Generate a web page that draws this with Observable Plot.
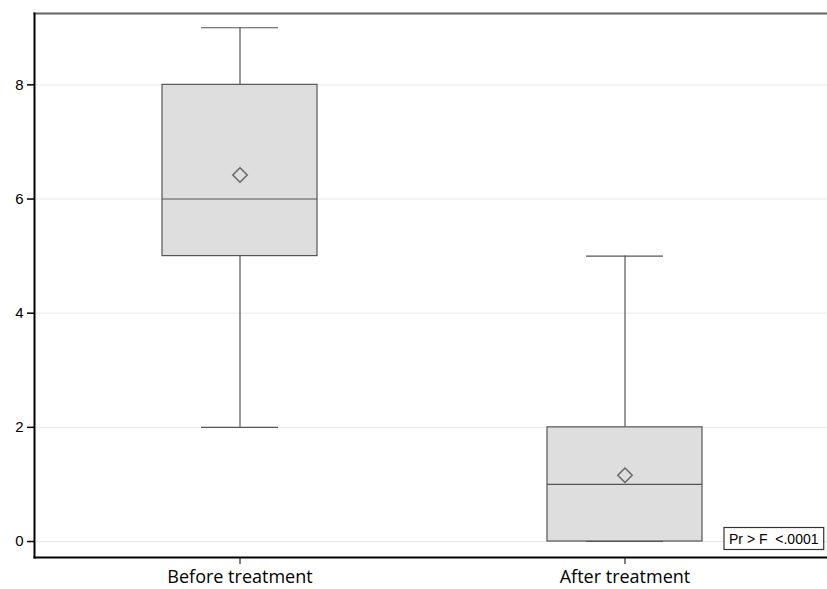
<!DOCTYPE html>
<html><head><meta charset="utf-8">
<script src="https://cdn.jsdelivr.net/npm/d3@7"></script>
<script src="https://cdn.jsdelivr.net/npm/@observablehq/plot@0.6"></script>
<style>body{margin:0;background:#fff;overflow:hidden}</style>
</head><body><div id="chart"></div>
<script>
const groups = ["Before treatment", "After treatment"];
const mins = [2, 0];
const q1s = [5, 0];
const medians = [6, 1];
const q3s = [8, 2];
const maxs = [9, 5];
const means = [6.42, 1.16];
const yTicks = [0, 2, 4, 6, 8];
const insetText = ["Pr > F  <.0001"];

const data = groups.map((g, i) => ({group: g, min: mins[i], q1: q1s[i], median: medians[i], q3: q3s[i], max: maxs[i], mean: means[i]}));

const boxStroke = "#555";
const plot = Plot.plot({
  width: 827, height: 589,
  marginLeft: 34, marginRight: 0, marginTop: 13, marginBottom: 32,
  style: {fontFamily: "'Liberation Sans', Arial, sans-serif", fontSize: "14px", background: "#fff", color: "#000"},
  x: {domain: groups, range: [34, 831], paddingInner: 0.597, paddingOuter: 0.333, label: null},
  y: {domain: [-0.28, 9.25], label: null},
  marks: [
    Plot.ruleY(yTicks, {stroke: "#e8e8e8"}),
    Plot.ruleX(data, {x: "group", y1: "min", y2: "q1", stroke: boxStroke, strokeWidth: 1.2}),
    Plot.ruleX(data, {x: "group", y1: "q3", y2: "max", stroke: boxStroke, strokeWidth: 1.2}),
    Plot.tickY(data, {x: "group", y: "max", insetLeft: 39, insetRight: 39, stroke: boxStroke, strokeWidth: 1.2}),
    Plot.tickY(data, {x: "group", y: "min", insetLeft: 39, insetRight: 39, stroke: boxStroke, strokeWidth: 1.2}),
    Plot.barY(data, {x: "group", y1: "q1", y2: "q3", fill: "#dedede", stroke: boxStroke, strokeWidth: 1.2}),
    Plot.tickY(data, {x: "group", y: "median", stroke: boxStroke, strokeWidth: 1.2}),
    Plot.dot(data, {x: "group", y: "mean", symbol: "diamond2", r: 6.5, stroke: "#666", strokeWidth: 1.5}),
    Plot.axisY({ticks: yTicks, tickSize: 7, tickPadding: 4, label: null, strokeWidth: 1.5, fontSize: 15}),
    Plot.axisX({tickSize: 7, tickPadding: 6, label: null, fontFamily: "'Open Sans', sans-serif", fontSize: 18}),
    Plot.frame({anchor: "top", stroke: "#666", strokeWidth: 2}),
    Plot.frame({anchor: "left", stroke: "#000", strokeWidth: 2}),
    Plot.frame({anchor: "bottom", stroke: "#000", strokeWidth: 2}),
    Plot.text(insetText, {frameAnchor: "bottom-right", dx: -9, dy: -14, fontSize: 14, fontFamily: "'Liberation Sans Narrow', 'Liberation Sans', Arial, sans-serif", className: "inset-label"})
  ]
});
document.getElementById("chart").appendChild(plot);
// draw a border box around the inset label
d3.select(plot).selectAll(".inset-label text").each(function() {
  const b = this.getBBox();
  d3.select(this.parentNode).insert("rect", "text")
    .attr("x", b.x - 5).attr("y", b.y - 3)
    .attr("width", b.width + 10).attr("height", b.height + 6)
    .attr("fill", "#fff").attr("stroke", "#333").attr("stroke-width", 1.2)
    .attr("transform", this.getAttribute("transform"));
});
</script></body></html>
